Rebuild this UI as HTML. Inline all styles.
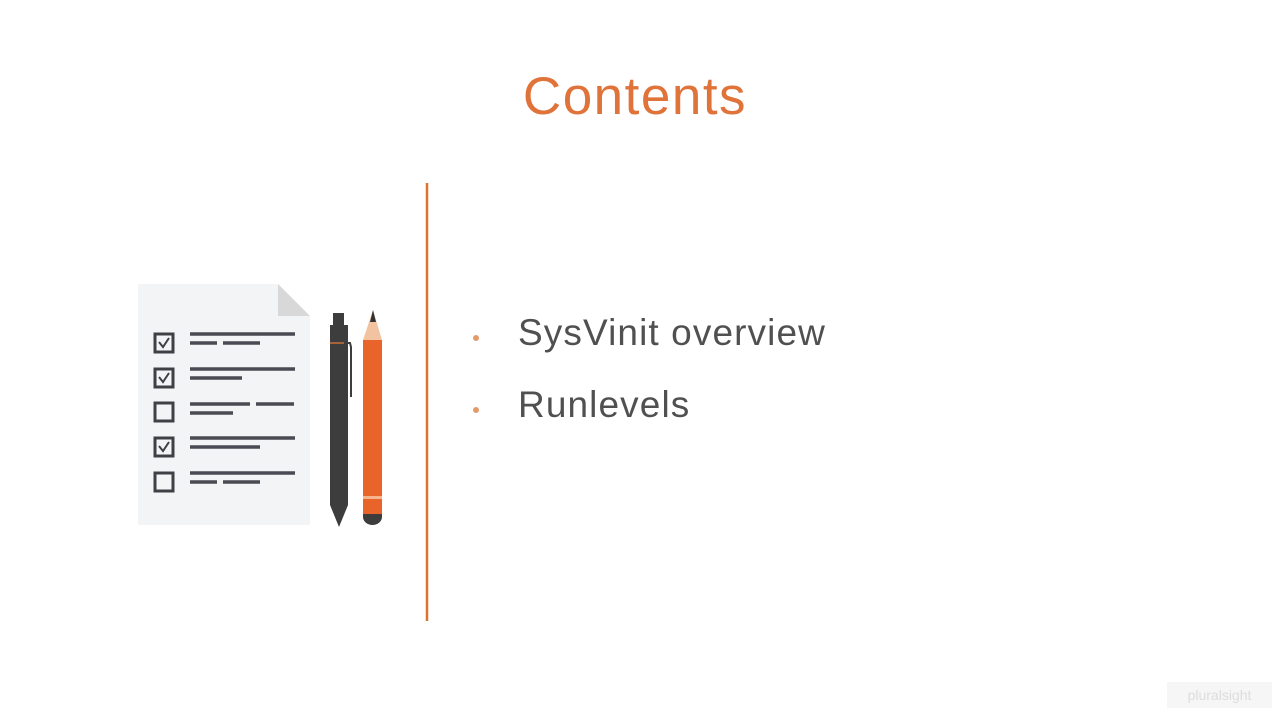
<!DOCTYPE html>
<html><head><style>
body{margin:0;width:1280px;height:720px;background:#fff;overflow:hidden;position:relative;font-family:"Liberation Sans",sans-serif}
.t{position:absolute;left:0;width:1270px;text-align:center;top:66px;font-size:53px;letter-spacing:1.5px;color:#e0733a}
.b{position:absolute;left:518px;font-size:37px;color:#505050;letter-spacing:1.1px}
.d{position:absolute;left:473px;width:6px;height:6px;border-radius:3px;background:#e39a6a}
</style></head><body>
<div class="t">Contents</div>
<div class="d" style="top:335px"></div>
<div class="d" style="top:407px"></div>
<div class="b" style="top:312px">SysVinit overview</div>
<div class="b" style="top:384px">Runlevels</div>
<svg width="1280" height="720" style="position:absolute;left:0;top:0">
<line x1="427" y1="183" x2="427" y2="621" stroke="#d9752f" stroke-width="2.5"/>
<polygon points="138,284 278,284 310,316 310,525 138,525" fill="#f3f4f6"/>
<polygon points="278,284 310,316 278,316" fill="#d8d8d8"/>
<g stroke="#3f3f46" stroke-width="3" fill="none">
<rect x="155" y="334" width="18" height="18"/>
<rect x="155" y="369" width="18" height="18"/>
<rect x="155" y="403" width="18" height="18"/>
<rect x="155" y="438" width="18" height="18"/>
<rect x="155" y="473" width="18" height="18"/>
<g stroke-width="2"><polyline points="159,342 163,347 169,338"/><polyline points="159,377 163,382 169,373"/><polyline points="159,446 163,451 169,442"/></g>
</g>
<g stroke="#4a4a52" stroke-width="3.5">
<line x1="190" y1="334" x2="295" y2="334"/><line x1="190" y1="343" x2="217" y2="343"/><line x1="223" y1="343" x2="260" y2="343"/>
<line x1="190" y1="369" x2="295" y2="369"/><line x1="190" y1="378" x2="242" y2="378"/>
<line x1="190" y1="404" x2="250" y2="404"/><line x1="256" y1="404" x2="294" y2="404"/><line x1="190" y1="413" x2="233" y2="413"/>
<line x1="190" y1="438" x2="295" y2="438"/><line x1="190" y1="447" x2="260" y2="447"/>
<line x1="190" y1="473" x2="295" y2="473"/><line x1="190" y1="482" x2="217" y2="482"/><line x1="223" y1="482" x2="260" y2="482"/>
</g>
<rect x="333" y="313" width="11" height="12" fill="#3d3d3d"/>
<polygon points="330,325 348,325 348,505 339,527 330,505" fill="#3d3d3d"/>
<line x1="330" y1="343" x2="348" y2="343" stroke="#c8703a" stroke-width="1.5"/>
<path d="M344,343 L350,343 L351,347 L351,397" stroke="#3d3d3d" stroke-width="2" fill="none"/>
<polygon points="373,310 363,340 382,340" fill="#f2c3a0"/>
<polygon points="373,310 370,322 376,322" fill="#333"/>
<rect x="363" y="340" width="19" height="175" fill="#e8642a"/>
<rect x="363" y="496" width="19" height="3" fill="#f5b48c"/>
<path d="M363,514 L382,514 L382,517 A9.5,8 0 0 1 363,517 Z" fill="#3d3d3d"/>
</svg>
<div style="position:absolute;right:8px;bottom:12px;width:105px;height:26px;background:#f6f6f6;color:#ddd;font-size:14px;line-height:26px;text-align:center">pluralsight</div>
</body></html>
